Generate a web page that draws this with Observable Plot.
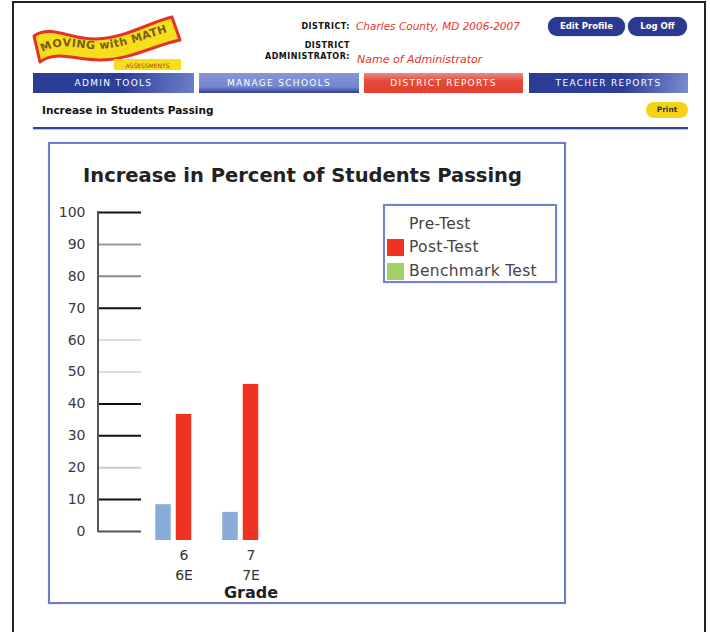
<!DOCTYPE html>
<html>
<head>
<meta charset="utf-8">
<script src="https://cdn.jsdelivr.net/npm/d3@7"></script>
<script src="https://cdn.jsdelivr.net/npm/@observablehq/plot@0.6"></script>
<style>
html, body { margin: 0; padding: 0; background: #fff; }
#page { position: relative; width: 710px; height: 632px; overflow: hidden; font-family: "DejaVu Sans", sans-serif; }
.abs { position: absolute; }
#outer { left: 12px; top: 1px; width: 694px; height: 700px; box-sizing: border-box; border: 2px solid #222; }
.hdr-label { font-weight: bold; font-size: 8px; color: #111; text-align: right; letter-spacing: 0.5px; }
.hdr-red { color: #e8322a; font-style: italic; font-size: 10.5px; white-space: nowrap; }
.btn { background: #2b3990; color: #fff; font-weight: bold; font-size: 8.5px; text-align: center; border-radius: 10px; height: 19px; line-height: 19px; box-shadow: 0 0 1px #2b3990; white-space: nowrap; }
.tab { top: 73px; height: 20px; line-height: 20px; color: #fff; font-size: 9px; letter-spacing: 1.3px; text-align: center; white-space: nowrap; }
#chartframe { left: 48px; top: 142px; width: 518px; height: 462px; box-sizing: border-box; border: 2px solid #6d7dcc; box-shadow: 0 0 1px #aab4e6; }
#ctitle { left: 48px; width: 509px; top: 164px; text-align: center; font-weight: bold; font-size: 19.5px; color: #222; white-space: nowrap; }
#legend { left: 383px; top: 204px; width: 174px; height: 79px; box-sizing: border-box; border: 2px solid #7383d2; box-shadow: 0 0 1px #b0b9e8; }
.lg-row { position: absolute; left: 2px; height: 18px; display: flex; align-items: center; }
.lg-sw { width: 17px; height: 17px; margin-right: 5px; }
.lg-tx { font-size: 15.5px; color: #444; white-space: nowrap; letter-spacing: 0.3px; }
#plot { left: 0; top: 0; }
g[aria-label="y-tick-labels"] text { letter-spacing: 2px; }
</style>
</head>
<body>
<div id="page">
  <div id="outer" class="abs"></div>

  <svg class="abs" style="left:0;top:0" width="200" height="80">
    <path d="M34,36 C50,24 72,40 96,39 C126,38 150,22 172,17 L180,40 C155,45 130,60 100,60 C75,60 55,50 40,62 Z"
          fill="#f6df1a" stroke="#e4322b" stroke-width="3" stroke-linejoin="round"/>
    <path id="lpath" d="M40,54 C60,40 80,50 100,49 C130,47 150,36 178,29" fill="none"/>
    <text font-family="DejaVu Sans" font-weight="bold" font-size="11" fill="#7a5a1a" letter-spacing="0.5">
      <textPath href="#lpath" startOffset="3">MOVING with MATH</textPath>
    </text>
    <rect x="114" y="59" width="67" height="11" fill="#f6df1a"/>
    <text x="147.5" y="67.5" text-anchor="middle" font-family="DejaVu Sans" font-size="6" fill="#b23a1a">ASSESSMENTS</text>
  </svg>

  <div class="abs hdr-label" style="left:230px;width:120px;top:22px;">DISTRICT:</div>
  <div class="abs hdr-red" style="left:356px;top:20px;">Charles County, MD 2006-2007</div>
  <div class="abs hdr-label" style="left:230px;width:120px;top:41px;">DISTRICT</div>
  <div class="abs hdr-label" style="left:200px;width:150px;top:52px;">ADMINISTRATOR:</div>
  <div class="abs hdr-red" style="left:357px;top:53px;font-size:11px;">Name of Administrator</div>

  <div class="abs btn" style="left:548px;top:17px;width:77px;">Edit Profile</div>
  <div class="abs btn" style="left:628px;top:17px;width:59px;">Log Off</div>

  <div class="abs tab" style="left:33px;width:161px;background:linear-gradient(100deg,#2b3c95 0%,#2d3f98 55%,#6e80c8 100%);">ADMIN TOOLS</div>
  <div class="abs tab" style="left:199px;width:160px;background:linear-gradient(to bottom,#8796d6 0%,#7385cc 70%,#2d3f98 100%);">MANAGE SCHOOLS</div>
  <div class="abs tab" style="left:364px;width:159px;background:linear-gradient(to bottom,#ef8a84 0%,#e64a38 40%,#e4402f 100%);">DISTRICT REPORTS</div>
  <div class="abs tab" style="left:529px;width:159px;background:linear-gradient(100deg,#2b3c95 0%,#2d3f98 60%,#7b8cd0 100%);">TEACHER REPORTS</div>

  <div class="abs" style="left:42px;top:104px;font-weight:bold;font-size:10.5px;color:#111;white-space:nowrap;">Increase in Students Passing</div>
  <div class="abs" style="left:646px;top:102px;width:42px;height:16px;line-height:16px;border-radius:8px;background:#f5d313;text-align:center;font-size:7.5px;font-weight:bold;color:#333;">Print</div>
  <div class="abs" style="left:33px;top:127px;width:655px;height:2px;background:#34449e;box-shadow:0 1px 1px #b8c0e8;"></div>

  <div id="chartframe" class="abs"></div>
  <div id="ctitle" class="abs">Increase in Percent of Students Passing</div>
  <div id="legend" class="abs"></div>
  <div id="plot" class="abs"></div>
</div>

<script>
// ---- data ----
const grades = ["6", "7"];
const gradeSubLabels = ["6E", "7E"];
const seriesNames = ["Pre-Test", "Post-Test", "Benchmark Test"];
const preTest = [8.4, 6.0];
const postTest = [36.7, 46.1];
const benchmarkTest = [null, null];
const yTicks = [0, 10, 20, 30, 40, 50, 60, 70, 80, 90, 100];
const xLabel = "Grade";

// ---- styles ----
const seriesColors = ["#89acd9", "#ee3323", "#a7cf68"];
const legendSwatches = ["transparent", "#ee3323", "#a7cf68"];
const gridColors = ["#555", "#111", "#ccc", "#111", "#111", "#ddd", "#ddd", "#111", "#888", "#999", "#111"];

const seriesValues = [preTest, postTest, benchmarkTest];
const rows = [];
seriesNames.forEach((s, si) => grades.forEach((g, gi) => rows.push({series: s, si, grade: g, value: seriesValues[si][gi]})));

// legend (HTML)
const legend = document.getElementById("legend");
const rowTops = [9, 32, 56];
seriesNames.forEach((s, i) => {
  const r = document.createElement("div");
  r.className = "lg-row";
  r.style.top = rowTops[i] + "px";
  r.innerHTML = `<div class="lg-sw" style="background:${legendSwatches[i]}"></div><div class="lg-tx">${s}</div>`;
  legend.appendChild(r);
});

const step = 20.5;
const barMarks = seriesNames.map((s, si) =>
  Plot.barY(rows.filter(d => d.si === si && d.value != null), {
    x: "grade", y: "value", fill: seriesColors[si],
    dx: (si - 1) * step, insetLeft: 25.75, insetRight: 25.75, insetBottom: -9
  })
);

const axisLine = (index, scales, values, dims) => {
  const l = document.createElementNS("http://www.w3.org/2000/svg", "line");
  l.setAttribute("x1", dims.marginLeft);
  l.setAttribute("x2", dims.marginLeft);
  l.setAttribute("y1", dims.marginTop - 1);
  l.setAttribute("y2", dims.height - dims.marginBottom + 1);
  l.setAttribute("stroke", "#555");
  l.setAttribute("stroke-width", 2);
  return l;
};

const chart = Plot.plot({
  width: 710,
  height: 632,
  marginLeft: 98,
  marginRight: 569,
  marginTop: 212,
  marginBottom: 101,
  style: {background: "transparent", overflow: "visible"},
  x: {type: "band", domain: grades, range: [149.75, 284.75], padding: 0, axis: null},
  y: {domain: [0, 100], axis: null},
  color: {type: "identity"},
  marks: [
    Plot.ruleY(yTicks, {y: d => d, stroke: (d, i) => gridColors[i], strokeWidth: 2}),
    axisLine,
    Plot.text(yTicks, {
      y: d => d, text: d => String(d), frameAnchor: "left", dx: -13, textAnchor: "end",
      fontSize: 14, fontFamily: "DejaVu Sans", fill: "#3a3a3a", ariaLabel: "y-tick-labels"
    }),
    ...barMarks,
    Plot.text(grades, {
      x: d => d, text: (d, i) => d + "\n" + gradeSubLabels[i], frameAnchor: "bottom",
      lineAnchor: "middle", lineHeight: 1.43, dy: 32, fontSize: 14, fontFamily: "DejaVu Sans", fill: "#333"
    }),
    Plot.text([xLabel], {
      x: () => grades[grades.length - 1], text: d => d, frameAnchor: "bottom", lineAnchor: "middle",
      dy: 61, fontSize: 16, fontWeight: "bold", fontFamily: "DejaVu Sans", fill: "#222"
    })
  ]
});
document.getElementById("plot").appendChild(chart);
</script>
</body>
</html>
